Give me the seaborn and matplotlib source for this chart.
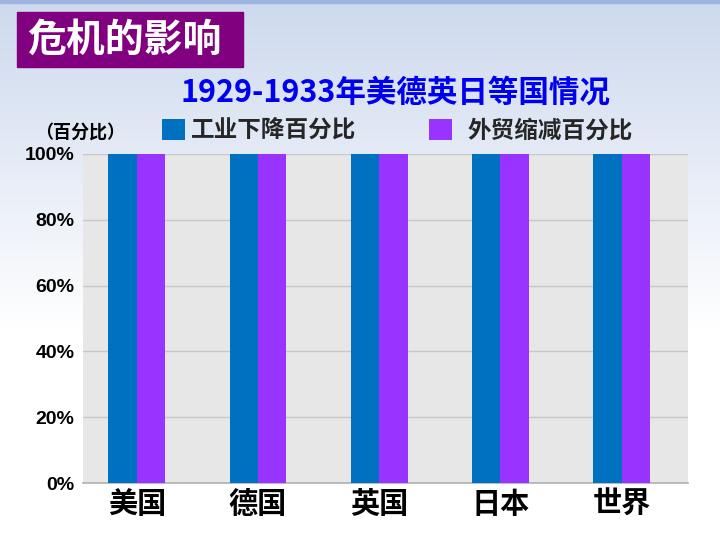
import numpy as np
import pandas as pd
import matplotlib
matplotlib.use("Agg")
import matplotlib.pyplot as plt
from matplotlib.patches import Rectangle
import seaborn as sns

countries = ["美国", "德国", "英国", "日本", "世界"]
industry_drop = [100, 100, 100, 100, 100]
trade_drop = [100, 100, 100, 100, 100]
series_names = ["工业下降百分比", "外贸缩减百分比"]
y_ticks = [0, 20, 40, 60, 80, 100]
y_tick_labels = ["0%", "20%", "40%", "60%", "80%", "100%"]
slide_title = "危机的影响"
chart_title = "1929-1933年美德英日等国情况"
unit_label = "（百分比）"

df = pd.DataFrame({
    "country": countries * 2,
    "series": [series_names[0]] * len(countries) + [series_names[1]] * len(countries),
    "value": industry_drop + trade_drop,
})

sns.set_theme(style="white")
plt.rcParams["font.family"] = ["Noto Sans CJK SC", "DejaVu Sans"]
cjk = ["Noto Sans CJK SC", "DejaVu Sans"]

fig = plt.figure(figsize=(7.2, 5.4), dpi=100)

# background gradient
bg = fig.add_axes([0, 0, 1, 1], zorder=-10)
grad = np.ones((540, 1, 3))
top = np.array([205, 217, 238]) / 255.0
for i in range(540):
    t = min(i / 330.0, 1.0)
    grad[i, 0, :] = top * (1 - t) + np.array([1.0, 1.0, 1.0]) * t
bg.imshow(grad, aspect="auto", extent=[0, 720, 540, 0])
bg.add_patch(Rectangle((0, 0), 720, 3, color="#9DB3E0"))
bg.add_patch(Rectangle((17, 12), 226, 55, color="#800080"))
bg.text(124, 40, slide_title, color="white", fontsize=28, fontweight="bold",
        ha="center", va="center", family=cjk)
bg.text(395, 93, chart_title, color="#0000F0", fontsize=22, fontweight="bold",
        ha="center", va="center", family=cjk)
bg.text(80, 132, unit_label, color="black", fontsize=13, fontweight="bold",
        ha="center", va="center", family=cjk)
bg.set_xlim(0, 720)
bg.set_ylim(540, 0)
bg.axis("off")

ax = fig.add_axes([83 / 720, 1 - 483 / 540, 605 / 720, 329 / 540])
ax.set_facecolor("#E7E7E7")
sns.barplot(data=df, x="country", y="value", hue="series",
            palette=["#0070C0", "#9933FF"], width=0.47, ax=ax,
            saturation=1, legend=True, zorder=3, linewidth=0)
ax.set_ylim(0, 100)
ax.set_xlim(-0.444, 4.548)
ax.set_yticks(y_ticks)
ax.set_yticklabels(y_tick_labels)
for lbl in ax.get_yticklabels():
    lbl.set_family(["Liberation Sans Narrow", "Liberation Sans", "DejaVu Sans"])
    lbl.set_fontweight("bold")
    lbl.set_fontsize(14)
    lbl.set_color("black")
for lbl in ax.get_xticklabels():
    lbl.set_family(cjk)
    lbl.set_fontweight("bold")
    lbl.set_fontsize(21)
    lbl.set_color("black")
ax.tick_params(axis="y", length=0, pad=6)
ax.tick_params(axis="x", length=0, pad=4)
ax.set_xlabel("")
ax.set_ylabel("")
ax.yaxis.grid(True, color="#C8C8C8", linewidth=1)
ax.set_axisbelow(True)
for s in ["left", "top", "right"]:
    ax.spines[s].set_visible(False)
ax.spines["bottom"].set_color("#B0B0B0")
ax.spines["bottom"].set_linewidth(1.2)

handles, labels = ax.get_legend_handles_labels()
ax.get_legend().remove()
prop = {"family": cjk, "weight": "bold", "size": 17}
leg1 = ax.legend(handles[:1], labels[:1], frameon=False, loc="lower left",
                 bbox_to_anchor=(67 / 605, 1.0), borderaxespad=0.1,
                 handlelength=1.0, handleheight=1.0, handletextpad=0.25,
                 prop=prop)
ax.add_artist(leg1)
ax.legend(handles[1:], labels[1:], frameon=False, loc="lower left",
          bbox_to_anchor=(334 / 605, 1.0), borderaxespad=0.1,
          handlelength=1.0, handleheight=1.0, handletextpad=0.65,
          prop=prop)

fig.savefig("out.png", dpi=100)
